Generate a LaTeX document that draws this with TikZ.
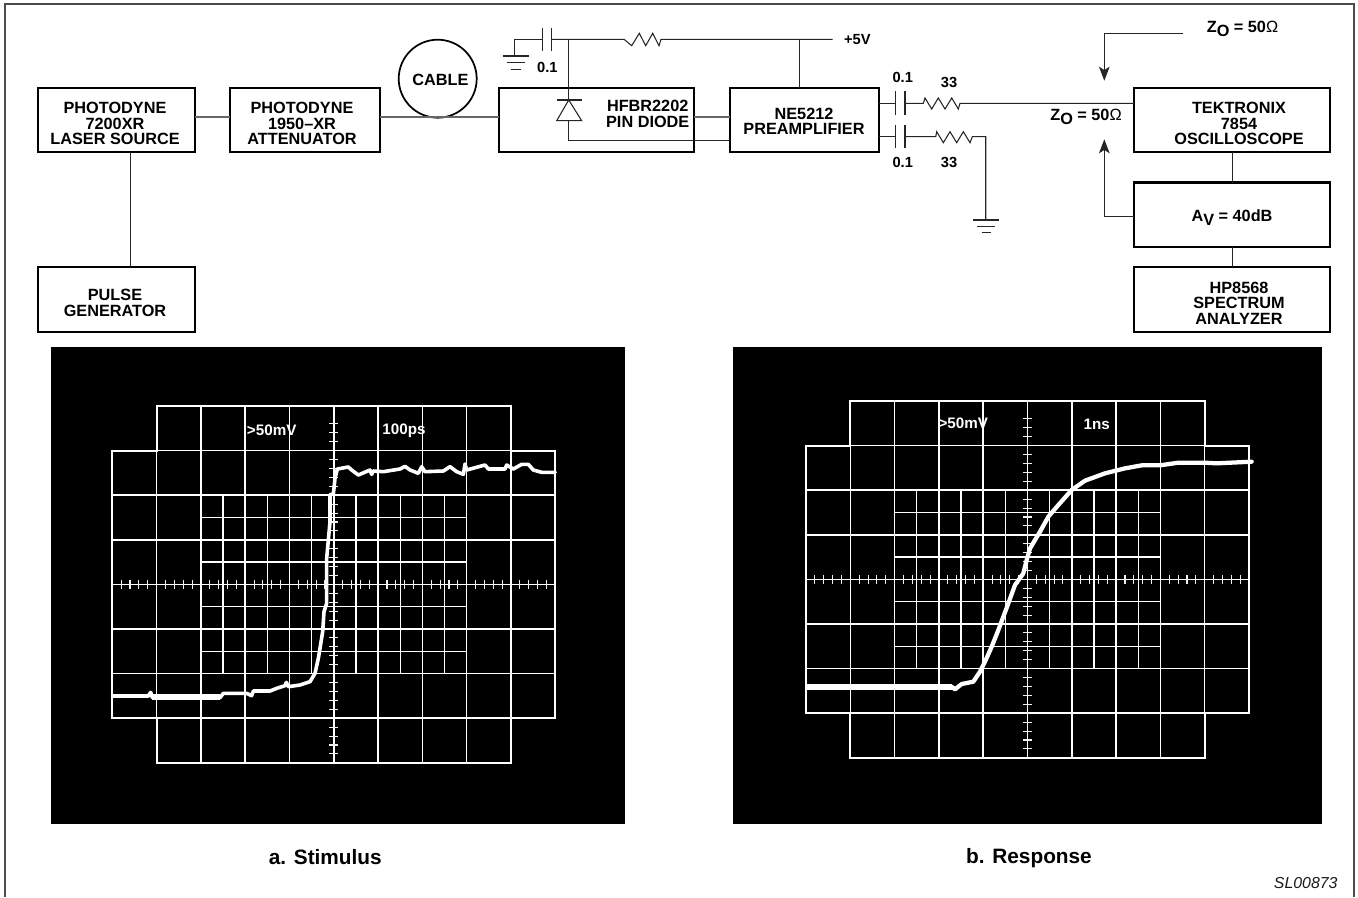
\documentclass[tikz,border=0pt]{standalone}
\usepackage{fontspec}
\setmainfont{Liberation Sans}
\usetikzlibrary{arrows.meta}
\newcommand{\ZO}{Z\raisebox{-2.6pt}{O} = 50\textnormal{Ω}}
\newcommand{\osgrid}[2]{%
  \begin{scope}[shift={(#1,#2)},x=33.225pt,y=-33.45pt,white]
    \foreach \j in {1,...,7} {\draw[gmain] (0,\j) -- (10,\j);}
    \foreach \j in {0,8} {\draw[gmain] (1,\j) -- (9,\j);}
    \foreach \i in {1,...,9} {\draw[gmain] (\i,0) -- (\i,8);}
    \foreach \i in {0,10} {\draw[gmain] (\i,1) -- (\i,7);}
    \foreach \i in {2.5,3.5,...,7.5} {\draw[ghalf] (\i,2) -- (\i,6);}
    \foreach \j in {2.5,3.5,4.5,5.5} {\draw[ghalf] (2,\j) -- (8,\j);}
    \foreach \i in {0,...,9} {\foreach \k in {0.2,0.4,0.6,0.8} {
      \draw[gtick] ({\i+\k},3.9) -- ({\i+\k},4.1);}}
    \foreach \j in {1,...,7} {\foreach \k in {0.2,0.4,0.6,0.8} {
      \draw[gtick] (4.9,{\j+\k}) -- (5.1,{\j+\k});}}
    \foreach \k in {0.4,0.6,0.8} {\draw[gtick] (4.9,\k) -- (5.1,\k);}
    \draw[gouter] (1,0) -- (9,0) -- (9,1) -- (10,1) -- (10,7) -- (9,7) -- (9,8) -- (1,8) -- (1,7) -- (0,7) -- (0,1) -- (1,1) -- cycle;
  \end{scope}}
\tikzset{
  bx/.style 2 args={draw=black,line width=1.6pt,minimum width=#1*0.75pt,minimum height=#2*0.75pt,inner sep=0pt,outer sep=0pt},
  lbl/.style={font=\fontsize{12.2}{11.6}\selectfont\bfseries,align=center,inner sep=0pt,text=black},
  smalltxt/.style={font=\fontsize{11}{12}\selectfont\bfseries,inner sep=0pt,text=black},
  captxt/.style={font=\fontsize{15.6}{18}\selectfont\bfseries,inner sep=0pt,text=black},
  oslbl/.style={font=\fontsize{11.4}{12}\selectfont\bfseries,inner sep=0pt,text=white},
  wire/.style={draw=black!85,line width=0.8pt,line join=miter},
  thickwire/.style={draw=black!60,line width=1.2pt},
  gmain/.style={line width=1.15pt},
  ghalf/.style={line width=1pt},
  gtick/.style={line width=0.8pt,white!95!black},
  gouter/.style={line width=1.4pt},
  tracea/.style={draw=white,line width=2.7pt,line join=round,line cap=round},
  traceb/.style={draw=white,line width=3.2pt,line join=round,line cap=round},
  arr/.style={wire,-{Stealth[length=10.5pt,width=8pt,inset=2.5pt]}}
}
\begin{document}
\begin{tikzpicture}[x=0.75pt,y=-0.75pt]
\useasboundingbox (0,0) rectangle (1358,897);
% frame
\draw[black!70,line width=0.9pt] (5,897) -- (5,4) -- (1354,4) -- (1354,897);
% boxes
\node[bx={157}{64.7}] (laser) at (116.5,120) {};
\node[bx={149.7}{64.7}] (atten) at (304.85,120) {};
\node[bx={157}{64.7}] (pulse) at (116.5,299.3) {};
\node[bx={195.3}{64.7}] (pin) at (596.65,120) {};
\node[bx={149}{64.7}] (pre) at (804.5,120) {};
\node[bx={195.7}{64.7}] (tek) at (1232.15,120) {};
\node[bx={195.7}{64.7}] (av) at (1232.15,214.85) {};
\node[bx={195.7}{64.7}] (hp) at (1232.15,299.3) {};
\node[draw=black,line width=1.3pt,circle,minimum size=58.5pt,inner sep=0pt] (cable) at (437.7,78.7) {};
% texts
\node[lbl] (tlaser) at (115,123.7) {PHOTODYNE\\7200XR\\LASER SOURCE};
\node[lbl] (tatten) at (302,123.7) {PHOTODYNE\\1950–XR\\ATTENUATOR};
\node[lbl] (tpulse) at (115,303) {PULSE\\GENERATOR};
\node[lbl] (tcable) at (440.5,80.3) {CABLE};
\node[lbl] (tpin) at (647.7,113.7) {HFBR2202\\PIN DIODE};
\node[lbl] (tpre) at (804,121.3) {NE5212\\PREAMPLIFIER};
\node[lbl] (ttek) at (1239,123.7) {TEKTRONIX\\7854\\OSCILLOSCOPE};
\node[lbl] (tav) at (1232,217.5) {A\raisebox{-2.6pt}{V} = 40dB};
\node[lbl] (thp) at (1239,303) {HP8568\\SPECTRUM\\ANALYZER};
\node[smalltxt] (cc1) at (547.3,67.7) {0.1};
\node[smalltxt] (v5) at (857.3,40) {+5V};
\node[smalltxt] (cc2) at (902.7,77.7) {0.1};
\node[smalltxt] (rr2) at (949,82.7) {33};
\node[smalltxt] (cc3) at (902.7,162.7) {0.1};
\node[smalltxt] (rr3) at (949,162.7) {33};
\node[lbl] (z1) at (1242.5,29) {\ZO};
\node[lbl] (z2) at (1086,117) {\ZO};
% coordinates
\coordinate (j1) at (0,116.7);
\coordinate (j2) at (130.7,0);
\coordinate (g1) at (514.7,39.3);
\coordinate (g1a) at (514.7,56);
\coordinate (ca) at (542.3,39.3);
\coordinate (cb) at (551.7,39.3);
\coordinate (d) at (568.7,39.3);
\coordinate (r1a) at (624,39.3);
\coordinate (r1b) at (661,39.3);
\coordinate (v5a) at (832.7,39.3);
\coordinate (vt) at (799.3,39.3);
\coordinate (da) at (568.7,100);
\coordinate (db) at (568.7,120.7);
\coordinate (dc) at (568.7,140.3);
\coordinate (up) at (0,103.3);
\coordinate (lo) at (0,136.7);
\coordinate (c2a) at (895.7,103.3);
\coordinate (c2b) at (905,103.3);
\coordinate (r2a) at (923.3,103.3);
\coordinate (r2b) at (960,103.3);
\coordinate (c3a) at (895.7,136.7);
\coordinate (c3b) at (905,136.7);
\coordinate (r3a) at (935.7,136.7);
\coordinate (r3b) at (972.3,136.7);
\coordinate (gc) at (985.7,136.7);
\coordinate (gd) at (985.7,220);
\coordinate (az1) at (1183.3,33.7);
\coordinate (az2) at (1104.3,33.7);
\coordinate (az3) at (1104.3,80.7);
\coordinate (ay1) at (1104.3,216.7);
\coordinate (ay3) at (1104.3,139.3);
\coordinate (tv) at (1232.3,0);
% block connectors
\draw[thickwire] (laser.east|-j1) -- (atten.west|-j1);
\draw[thickwire] (atten.east|-j1) -- (pin.west|-j1);
\draw[wire] (laser.south-|j2) -- (pulse.north-|j2);
\draw[thickwire] (pin.east|-j1) -- (pre.west|-j1);
\draw[wire] (tek.south-|tv) -- (av.north-|tv);
\draw[wire] (av.south-|tv) -- (hp.north-|tv);
% supply line
\draw[wire] (g1a) -- (g1) -- (ca);
\draw[wire] (542.3,28) -- (542.3,51.3) (551.7,28) -- (551.7,51.3);
\draw[wire] (cb) -- (r1a) -- (631.7,45.7) -- (639.3,33.3) -- (645.7,45.7) -- (652.7,33.3) -- (659,45.7) -- (r1b) -- (v5a);
\draw[wire] (vt) -- (pre.north-|vt);
\draw[wire] (502.7,56) -- (528.7,56) (506.7,62.7) -- (524.7,62.7) (510.7,69.3) -- (520.7,69.3);
% diode
\draw[wire] (d) -- (da);
\draw[wire] (556.7,100) -- (581.7,100);
\draw[wire] (da) -- (556.7,120.7) -- (581.7,120.7) -- cycle;
\draw[wire] (db) -- (dc) -- (pre.west|-dc);
% outputs
\draw[wire] (pre.east|-up) -- (c2a);
\draw[wire] (895.7,91) -- (895.7,115) (905,91) -- (905,115);
\draw[wire] (c2b) -- (r2a) -- (925,98) -- (931.7,109) -- (938.3,98) -- (945,109) -- (951.7,98) -- (958.3,109) -- (r2b) -- (tek.west|-up);
\draw[wire] (pre.east|-lo) -- (c3a);
\draw[wire] (895.7,125) -- (895.7,148.3) (905,125) -- (905,148.3);
\draw[wire] (c3b) -- (r3a) -- (936.7,131.7) -- (943.3,142.7) -- (950,131.7) -- (956.7,142.7) -- (963.3,131.7) -- (970,142.7) -- (r3b) -- (gc) -- (gd);
\draw[wire] (973.3,220) -- (999.3,220) (977.3,226.7) -- (995,226.7) (981.7,232.5) -- (990.7,232.5);
% arrows
\draw[arr] (az1) -- (az2) -- (az3);
\draw[arr] (av.west|-ay1) -- (ay1) -- (ay3);
% screens
\fill[black] (51,347) rectangle (625,824);
\fill[black] (733,347) rectangle (1322,824);
\osgrid{112.3}{406}
\osgrid{806}{401}
\begin{scope}[shift={(100,395)},x=0.25pt,y=-0.25pt]
\draw[tracea] (37,903) -- (145,903) -- (152,892) -- (157,908) -- (360,908) -- (370,895) -- (440,895) -- (455,902) -- (460,888) -- (510,888) -- (530,880) -- (555,872) -- (559,862) -- (565,875) -- (600,870) -- (630,860) -- (645,835) -- (655,790) -- (660,760) -- (668,710) -- (672,650) -- (680,625) -- (680,490) -- (690,380) -- (690,298) -- (700,298) -- (705,250) -- (712,222) -- (745,216) -- (755,225) -- (775,240) -- (810,225) -- (815,238) -- (820,228) -- (850,230) -- (900,222) -- (915,214) -- (930,225) -- (955,235) -- (965,215) -- (975,230) -- (1030,228) -- (1050,215) -- (1070,230) -- (1090,238) -- (1095,207) -- (1100,225) -- (1155,210) -- (1165,222) -- (1215,222) -- (1220,210) -- (1240,222) -- (1265,208) -- (1285,208) -- (1300,225) -- (1325,232) -- (1366,232);
\draw[white,line width=3.8pt] (157,906) -- (360,906);
\end{scope}
\begin{scope}[shift={(795,390)},x=0.25pt,y=-0.25pt]
\draw[white,line width=4.6pt] (33,890) -- (470,890);
\draw[traceb] (470,890) -- (480,898) -- (500,882) -- (535,875) -- (555,845) -- (570,815) -- (590,770) -- (610,720) -- (625,680) -- (640,640) -- (660,585) -- (685,550) -- (695,510) -- (705,475) -- (735,425) -- (760,380) -- (790,345) -- (830,300) -- (870,272) -- (930,250) -- (990,235) -- (1040,226) -- (1095,226) -- (1150,218) -- (1230,218) -- (1265,220) -- (1370,215);
\end{scope}
\node[oslbl] (a1) at (271.7,430.5) {>50mV};
\node[oslbl] (a2) at (404,430.5) {100ps};
\node[oslbl] (b1) at (963.3,423.5) {>50mV};
\node[oslbl] (b2) at (1096.7,424) {1ns};
% captions
\node[captxt] (capa) at (325.3,857) {a. Stimulus};
\node[captxt] (capb) at (1029,858.5) {b. Response};
\node[font=\fontsize{11.9}{13}\selectfont\itshape,inner sep=0pt,text=black!90] (sl) at (1305.7,883.3) {SL00873};
\end{tikzpicture}
\end{document}
